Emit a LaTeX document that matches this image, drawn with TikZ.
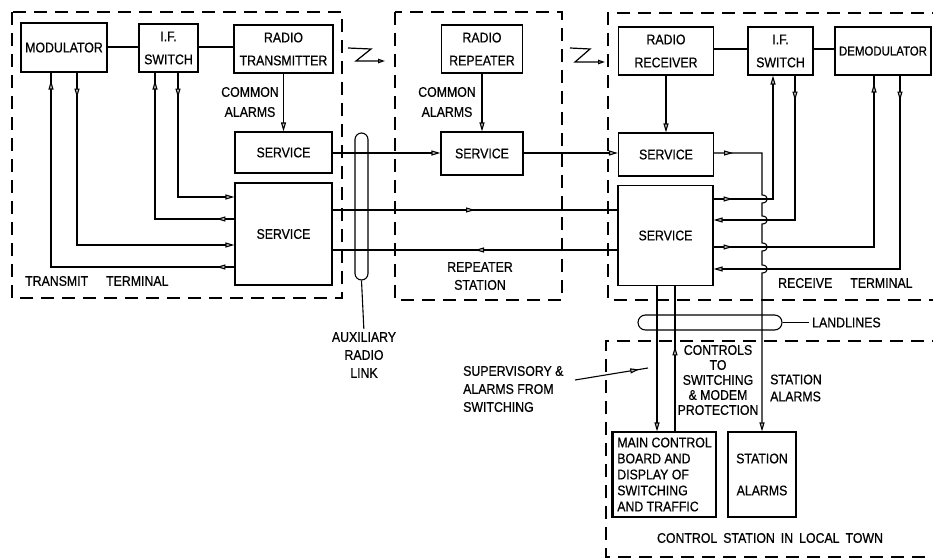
\documentclass[tikz,border=0pt]{standalone}
\usepackage{fontspec}
\setmainfont[FakeStretch=0.88,FakeBold=0.6]{Liberation Sans}
\usetikzlibrary{arrows.meta,decorations.markings}
\tikzset{
  otri/.tip={Triangle[length=9pt,width=5pt,fill=gray!45]},
  ln/.style={line width=1.1pt},
  arr/.style={line width=1.1pt,-{otri}},
  marks/.style={decoration={markings,#1},postaction={decorate}},
  dsh/.style={line width=1.1pt,dash pattern=on 13pt off 8pt},
  blk/.style={draw,line width=1.1pt,align=center,inner sep=0pt},
  txt/.style={align=center,inner sep=0pt},
  zlink/.style={line width=1.2pt,-{Triangle[length=7pt,width=4.5pt,fill=gray!45]}},
}
\begin{document}
\begin{tikzpicture}[x=1pt,y=-1pt,every node/.style={font=\fontsize{14}{16}\selectfont}]
\useasboundingbox (0,0) rectangle (933,559);
\clip (0,0) rectangle (933,559);

% dashed regions
\draw[dsh] (12,12) rectangle (342,298);
\draw[dsh] (395,12) rectangle (562,300);
\draw[dsh] (945,13) -- (608,13) -- (608,300) -- (945,300);
\draw[dsh] (945,341) -- (606,341) -- (606,557) -- (945,557);

% blocks
\node[blk,minimum width=86pt,minimum height=49pt] (mod) at (64,47.5) {MODULATOR};
\node[blk,minimum width=59pt,minimum height=48pt] (ifs1) at (168.5,48) {I.F.\\[7pt]SWITCH};
\node[blk,minimum width=99pt,minimum height=48pt] (rtx) at (283.5,49) {RADIO\\[7pt]TRANSMITTER};
\node[blk,minimum width=97pt,minimum height=41pt] (svs1) at (283.5,152.5) {SERVICE};
\node[blk,minimum width=97pt,minimum height=102pt] (svb1) at (283.5,234) {SERVICE};
\node[blk,minimum width=81pt,minimum height=48pt] (rrep) at (482,49) {RADIO\\[7pt]REPEATER};
\node[blk,minimum width=82pt,minimum height=43pt] (svs2) at (482,153.5) {SERVICE};
\node[blk,minimum width=95pt,minimum height=48pt] (rrx) at (666,51) {RADIO\\[7pt]RECEIVER};
\node[blk,minimum width=65pt,minimum height=48pt] (ifs2) at (780.5,51) {I.F.\\[7pt]SWITCH};
\node[blk,minimum width=96pt,minimum height=48pt,font=\fontsize{13}{15}\selectfont] (demod) at (883,51) {DEMODULATOR};
\node[blk,minimum width=95pt,minimum height=43pt] (svs3) at (666,154.5) {SERVICE};
\node[blk,minimum width=95pt,minimum height=100pt] (svb3) at (665.5,235.5) {SERVICE};
\node[blk,minimum width=103pt,minimum height=85pt,align=left,font=\fontsize{14}{16}\selectfont] (mcb) at (664.5,474.5) {MAIN CONTROL\\BOARD AND\\DISPLAY OF\\SWITCHING\\AND TRAFFIC};
\draw[line width=2.2pt] (mcb.north west) -- (mcb.south west);
\node[blk,minimum width=68pt,minimum height=85pt] (sta) at (762,474.5) {STATION\\[16pt]ALARMS};

% capsules
\node[draw,ln,rounded corners=6.5pt,minimum width=13pt,minimum height=147pt,inner sep=0pt] (cap1) at (361.5,206.5) {};
\node[draw,ln,rounded corners=7.5pt,minimum width=144pt,minimum height=15pt,inner sep=0pt] (cap2) at (710,322.5) {};

% labels
\node[txt] (ca1) at (250,102) {COMMON\\[4pt]ALARMS};
\node[txt] (ca2) at (447,102) {COMMON\\[4pt]ALARMS};
\node[txt,anchor=west] (tt) at (25,281) {TRANSMIT\hspace{18pt}TERMINAL};
\node[txt] (rs) at (480,276) {REPEATER\\[2pt]STATION};
\node[txt,anchor=west] (rt) at (778,283) {RECEIVE\hspace{18pt}TERMINAL};
\node[txt] (aux) at (364,355) {AUXILIARY\\[2pt]RADIO\\[2pt]LINK};
\node[txt,anchor=west] (land) at (812,322.5) {LANDLINES};
\node[txt,anchor=west,align=left] (sup) at (463,389) {SUPERVISORY \&\\[2pt]ALARMS FROM\\[2pt]SWITCHING};
\node[txt,font=\fontsize{14}{15}\selectfont] (ctl) at (718,380) {CONTROLS\\TO\\SWITCHING\\\& MODEM\\PROTECTION};
\node[txt,anchor=west,align=left] (sal) at (770,388) {STATION\\[1pt]ALARMS};
\node[txt] (cst) at (770,538) {CONTROL\hspace{6pt}STATION\hspace{6pt}IN\hspace{6pt}LOCAL\hspace{6pt}TOWN};

% transmit terminal connections
\draw[ln] (mod.east |- 0,47) -- (ifs1.west |- 0,47);
\draw[ln] (ifs1.east |- 0,47) -- (rtx.west |- 0,47);
\draw[arr] (rtx.south) -- (svs1.north);
\draw[arr,marks={mark=at position 25pt with {\arrow{otri}}}] (mod.south -| 77,0) |- (svb1.west |- 0,245);
\draw[ln,marks={mark=at position 18pt with {\arrow{otri}},mark=at position -8pt with {\arrow{otri}}}] (svb1.west |- 0,267) -| (mod.south -| 51,0);
\draw[arr,marks={mark=at position 25pt with {\arrow{otri}}}] (ifs1.south -| 178,0) |- (svb1.west |- 0,197);
\draw[ln,marks={mark=at position 18pt with {\arrow{otri}},mark=at position -8pt with {\arrow{otri}}}] (svb1.west |- 0,219) -| (ifs1.south -| 155,0);

% inter-station
\draw[arr] (svs1.east |- 0,153) -- (svs2.west |- 0,153);
\draw[arr] (svs2.east |- 0,153) -- (svs3.west |- 0,153);
\draw[ln,marks={mark=at position 0.5 with {\arrow{otri}}}] (svb1.east |- 0,210) -- (svb3.west |- 0,210);
\draw[ln,marks={mark=at position 0.5 with {\arrow{otri}}}] (svb3.west |- 0,250) -- (svb1.east |- 0,250);
\draw[arr] (rrep.south) -- (svs2.north);

% receive terminal
\draw[arr] (rrx.south) -- (svs3.north);
\draw[ln] (rrx.east |- 0,49) -- (ifs2.west |- 0,49);
\draw[line width=2.6pt] (ifs2.east |- 0,49) -- (demod.west |- 0,49);
\draw[arr,marks={mark=at position 19pt with {\arrow{otri}}}] (svb3.east |- 0,199) -| (ifs2.south -| 773,0);
\draw[arr,marks={mark=at position 25pt with {\arrow{otri}}}] (ifs2.south -| 795,0) |- (svb3.east |- 0,220);
\draw[ln,marks={mark=at position 19pt with {\arrow{otri}},mark=at position -8pt with {\arrow{otri}}}] (svb3.east |- 0,247) -| (demod.south -| 874,0);
\draw[arr,marks={mark=at position 25pt with {\arrow{otri}}}] (demod.south -| 900,0) |- (svb3.east |- 0,269);
\draw[arr,marks={mark=at position 19pt with {\arrow{otri}}}]
  (svs3.east |- 0,153) -- (762,153) -- (762,195)
  .. controls (769,195) and (769,203) .. (762,203) -- (762,216)
  .. controls (769,216) and (769,224) .. (762,224) -- (762,243)
  .. controls (769,243) and (769,251) .. (762,251) -- (762,265)
  .. controls (769,265) and (769,273) .. (762,273) -- (sta.north);

% control station links
\draw[arr] (svb3.south -| 657,0) -- (mcb.north -| 657,0);
\draw[ln,marks={mark=at position 85pt with {\arrow{otri}}}] (mcb.north -| 675,0) -- (svb3.south -| 675,0);

% capsule leads
\draw[ln,shorten >=3pt] (cap1.south) -- (aux.north);
\draw[ln,shorten >=3pt] (cap2.east) -- (land.west);

% supervisory arrow
\coordinate (s1) at (575,380);
\coordinate (s2) at (648,368);
\draw[ln,marks={mark=at position 0.88 with {\arrow{otri}}}] (s1) -- (s2);

% radio link symbols
\draw[zlink] (348,48) -- (371,49) -- (356,61) -- (385,61);
\draw[zlink] (570,48) -- (590,49) -- (575,62) -- (605,62);
\end{tikzpicture}
\end{document}
